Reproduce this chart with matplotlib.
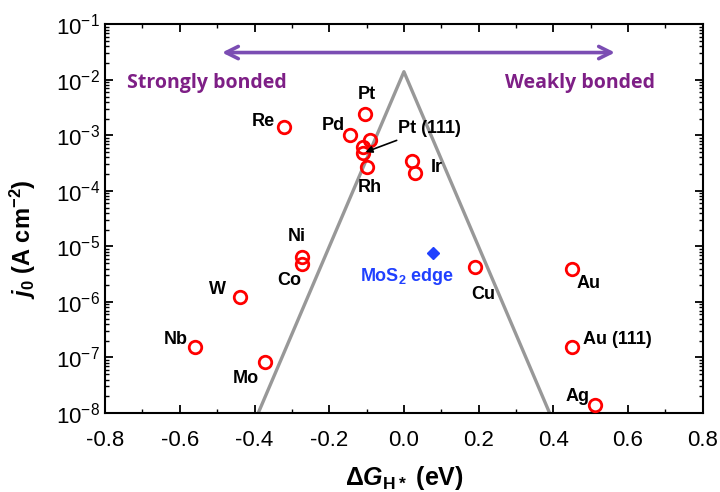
import numpy as np
import matplotlib.pyplot as plt
from matplotlib.ticker import LogLocator, MultipleLocator, NullFormatter, FuncFormatter

plt.rcParams['font.family'] = ['Liberation Sans', 'DejaVu Sans']
plt.rcParams['mathtext.fontset'] = 'custom'
plt.rcParams['mathtext.rm'] = 'Liberation Sans'
plt.rcParams['mathtext.bf'] = 'Liberation Sans:bold'
plt.rcParams['mathtext.it'] = 'Liberation Sans:italic:bold'

# ---- metals: dG_H (eV), exchange current density j0 (A/cm2) ----
metals = ['Re', 'Pd', 'Pt', 'Pt (111)', 'Pt_b', 'Pt_c', 'Rh', 'Ir', 'Ir_b',
          'Ni', 'Co', 'W', 'Nb', 'Mo', 'Cu', 'Au', 'Au (111)', 'Ag']
dG = [-0.32, -0.144, -0.104, -0.11, -0.11, -0.091, -0.099, 0.021, 0.03,
      -0.273, -0.273, -0.439, -0.559, -0.372, 0.19, 0.45, 0.45, 0.511]
j0 = [1.4e-3, 1.0e-3, 2.4e-3, 4.8e-4, 6.1e-4, 8.2e-4, 2.7e-4, 3.5e-4, 2.1e-4,
      6.4e-6, 4.8e-6, 1.23e-6, 1.55e-7, 8.3e-8, 4.3e-6, 3.9e-6, 1.55e-7, 1.4e-8]

# label offsets (points) and alignment
labels = {
    'Re': ((-7, 4), 'right'), 'Pd': ((-4, 7), 'right'), 'Pt': ((1, 14), 'center'),
    'Rh': ((2, -15), 'center'), 'Ir_b': ((11, 4), 'left'), 'Ni': ((-4, 15), 'center'),
    'Co': ((-9, -12), 'center'), 'W': ((-16, 5), 'center'), 'Nb': ((-5, 5), 'right'),
    'Mo': ((-14, -12), 'center'), 'Cu': ((6, -20), 'center'), 'Au': ((12, -10), 'center'),
    'Au (111)': ((8, 5), 'left'), 'Ag': ((-4, 6), 'right'),
}

# MoS2 edge site
mos2_dG = [0.078]
mos2_j0 = [7.6e-6]

# volcano (theory) line
volcano_dG = [-0.39, 0.0, 0.39]
volcano_j0 = [1e-8, 1.4e-2, 1e-8]

fig = plt.figure(figsize=(7.2, 4.92), dpi=100)
ax = fig.add_axes([0.146, 0.1606, 0.830, 0.790])

ax.plot(volcano_dG, volcano_j0, color='#989898', lw=2.4, zorder=1)
ax.plot(dG, j0, 'o', mfc='none', mec='#ff0000', mew=2.0, ms=9, zorder=3)
ax.plot(mos2_dG, mos2_j0, 'D', color='#2040ff', ms=6, zorder=3)

for name, x, y in zip(metals, dG, j0):
    if name in labels:
        off, ha = labels[name]
        ax.annotate(name.split('_')[0], (x, y), xytext=off, textcoords='offset points',
                    ha=ha, va='center', fontsize=13, fontweight='bold')

# Pt (111) with pointer arrow
i = metals.index('Pt (111)')
ax.annotate('Pt (111)', xy=(dG[i], j0[i]), xytext=(-0.016, 1.35e-3),
            ha='left', va='center', fontsize=13, fontweight='bold',
            arrowprops=dict(arrowstyle='-|>', color='black', lw=1.2,
                            mutation_scale=10, shrinkA=2, shrinkB=2))

ax.annotate(r'MoS$_\mathbf{2}$ edge', (mos2_dG[0], mos2_j0[0]), xytext=(-19, -17),
            textcoords='offset points', ha='center', va='center',
            fontsize=13, fontweight='bold', color='#2040ff')

# bonding strength arrow
ax.annotate('', xy=(-0.487, 3.1e-2), xytext=(0.565, 3.1e-2),
            arrowprops=dict(arrowstyle='<->', color='#7b4db3', lw=2.6,
                            mutation_scale=22, shrinkA=0, shrinkB=0))
ax.text(-0.527, 8.7e-3, 'Strongly bonded', color='#7e1f86', fontsize=14,
        fontweight='bold', family='Open Sans', ha='center', va='center')
ax.text(0.471, 8.7e-3, 'Weakly bonded', color='#7e1f86', fontsize=14,
        fontweight='bold', family='Open Sans', ha='center', va='center')

ax.set_yscale('log')
ax.set_xlim(-0.8, 0.8)
ax.set_ylim(1e-8, 1e-1)
ax.xaxis.set_major_locator(MultipleLocator(0.2))
ax.xaxis.set_minor_locator(MultipleLocator(0.1))
ax.xaxis.set_major_formatter(FuncFormatter(lambda v, p: f'{v + 0.0:.1f}'.replace('-0.0', '0.0')))
ax.yaxis.set_major_locator(LogLocator(base=10, numticks=10))
ax.yaxis.set_minor_locator(LogLocator(base=10, subs=np.arange(2, 10), numticks=20))
ax.yaxis.set_minor_formatter(NullFormatter())

ax.tick_params(which='both', direction='in', top=True, right=True, labelsize=16)
ax.tick_params(which='major', length=6, width=1.3)
ax.tick_params(which='minor', length=3, width=1.0)
ax.tick_params(axis='x', pad=12)
for s in ax.spines.values():
    s.set_linewidth(1.5)

ax.set_xlabel('Δ$G_{\\mathbf{H*}}$ (eV)', fontsize=18, fontweight='bold')
ax.set_ylabel(r'$j_\mathbf{0}$ (A cm$^{\mathbf{-2}}$)', fontsize=17, fontweight='bold')
ax.xaxis.set_label_coords(0.5, -0.13)
ax.yaxis.set_label_coords(-0.112, 0.447)

fig.savefig('out.png', dpi=100)
